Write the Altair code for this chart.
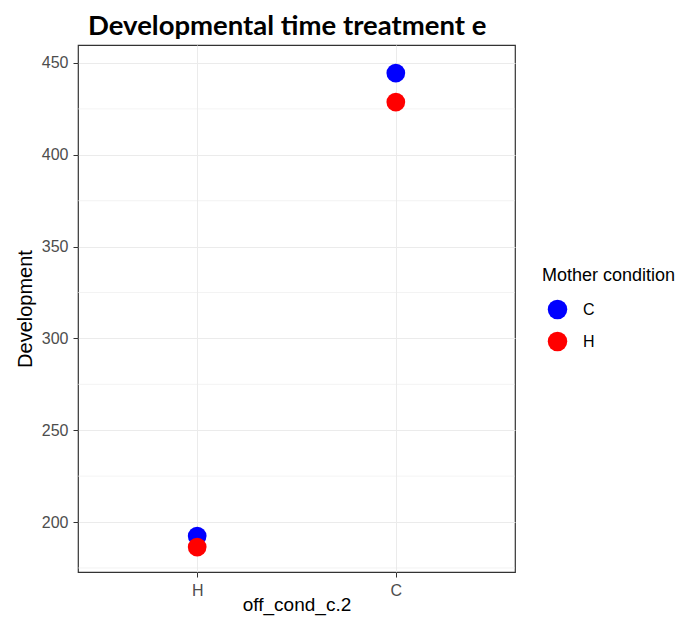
import altair as alt
import pandas as pd

off_cond = ["H", "H", "C", "C"]
mother_cond = ["C", "H", "C", "H"]
development = [192.4, 186.4, 444.5, 428.7]
x_order = ["H", "C"]
mother_order = ["C", "H"]
mother_colors = ["#0000FF", "#FF0000"]
major_breaks = [200, 250, 300, 350, 400, 450]
minor_breaks = [175, 225, 275, 325, 375, 425]

df = pd.DataFrame({"off_cond": off_cond, "mother": mother_cond, "Development": development})
minor_df = pd.DataFrame({"y": minor_breaks})

ydom = [172.8, 459.8]
FONT = "Liberation Sans"

minor = alt.Chart(minor_df).mark_rule(color="#EBEBEB", strokeWidth=0.6).encode(
    y=alt.Y("y:Q", scale=alt.Scale(domain=ydom, nice=False, zero=False))
)

points = alt.Chart(df).mark_circle(size=350, opacity=1).encode(
    x=alt.X("off_cond:N", sort=x_order, scale=alt.Scale(type="point", padding=0.6),
            axis=alt.Axis(title="off_cond_c.2", labelAngle=0, grid=True, gridColor="#EBEBEB",
                          domain=False, tickColor="#333333", tickSize=5, labelColor="#4D4D4D",
                          labelFontSize=16, labelPadding=5, titleFontSize=19, titleFontWeight="normal",
                          titleColor="#000000", titlePadding=-3, labelFont=FONT, titleFont=FONT)),
    y=alt.Y("Development:Q", scale=alt.Scale(domain=ydom, nice=False, zero=False),
            axis=alt.Axis(title="Development", values=major_breaks, grid=True, gridColor="#EBEBEB",
                          domain=False, tickColor="#333333", tickSize=5, labelColor="#4D4D4D",
                          labelFontSize=16, labelPadding=5, titleFontSize=20, titleFontWeight="normal",
                          titleColor="#000000", titlePadding=6, labelFont=FONT, titleFont=FONT)),
    color=alt.Color("mother:N", sort=mother_order,
                    scale=alt.Scale(domain=mother_order, range=mother_colors),
                    legend=alt.Legend(title="Mother condition", titleFontSize=18, titleFontWeight="normal",
                                      titleColor="#000000", labelFontSize=16, labelColor="#000000",
                                      titleFont=FONT, labelFont=FONT, orient="none",
                                      legendX=464, legendY=222,
                                      symbolSize=380, symbolType="circle", rowPadding=11,
                                      titlePadding=14, labelOffset=15, symbolOffset=5)),
)

chart = alt.layer(minor, points).properties(
    width=437, height=527,
    autosize=alt.AutoSizeParams(type="none"),
    padding={"left": 70, "top": 37, "right": 165, "bottom": 46},
    background="white",
    title=alt.Title("Developmental time treatment e", fontSize=27.5, font="Lato", fontWeight="bold",
                    anchor="start", frame="group", dx=10, color="#000000", offset=5),
).configure_view(stroke="#333333", strokeWidth=1.2)

chart.save("out.html", embed_options={"renderer": "svg", "actions": False})
